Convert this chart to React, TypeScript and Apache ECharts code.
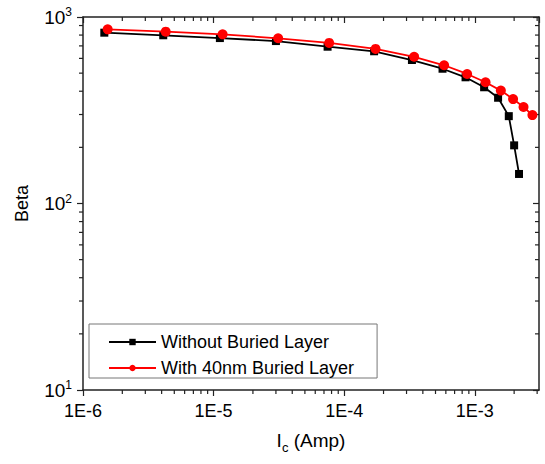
import React, { useEffect, useRef } from "react";
import * as echarts from "echarts";

const seriesNames = ["Without Buried Layer", "With 40nm Buried Layer"];
const icWithout = [1.456e-6, 4.115e-6, 1.117e-5, 3.0e-5, 7.46e-5, 1.694e-4, 3.3e-4, 5.66e-4, 8.49e-4, 1.178e-3, 1.507e-3, 1.82e-3, 2.0e-3, 2.18e-3];
const betaWithout = [824, 798, 771, 743, 693, 655, 588, 528, 475, 420, 369, 294, 205, 144];
const icBuried = [1.545e-6, 4.3e-6, 1.172e-5, 3.12e-5, 7.67e-5, 1.738e-4, 3.43e-4, 5.82e-4, 8.73e-4, 1.208e-3, 1.582e-3, 1.963e-3, 2.36e-3, 2.76e-3];
const betaBuried = [859, 834, 807, 769, 726, 674, 612, 551, 495, 447, 403, 363, 329, 298];

const xMin = 1e-6;
const xMax = 3.1e-3;
const yMin = 10;
const yMax = 1000;
const xMinorTicks = [
  2e-6, 3e-6, 4e-6, 5e-6, 6e-6, 7e-6, 8e-6, 9e-6,
  2e-5, 3e-5, 4e-5, 5e-5, 6e-5, 7e-5, 8e-5, 9e-5,
  2e-4, 3e-4, 4e-4, 5e-4, 6e-4, 7e-4, 8e-4, 9e-4,
  2e-3, 3e-3,
];
const yMinorTicks = [20, 30, 40, 50, 60, 70, 80, 90, 200, 300, 400, 500, 600, 700, 800, 900];

const FONT = "Liberation Sans, Arial, sans-serif";
const AXIS_COLOR = "#222";

export default function App() {
  const ref = useRef<HTMLDivElement>(null);
  useEffect(() => {
    document.body.style.margin = "0";
    if (!ref.current) return;
    const chart = echarts.init(ref.current, null, { renderer: "svg" });
    const tickStyle = { stroke: AXIS_COLOR, lineWidth: 1.2 };
    chart.setOption({
      animation: false,
      backgroundColor: "#fff",
      grid: { left: 83, right: 6, top: 17, bottom: 74, containLabel: false },
      legend: {
        data: seriesNames,
        orient: "vertical",
        left: 89,
        top: 324,
        borderColor: "#777",
        borderWidth: 1,
        padding: [9, 23, 1, 19],
        itemWidth: 47,
        itemHeight: 8,
        itemGap: 8,
        textStyle: { fontSize: 18, fontFamily: FONT, color: "#000" },
      },
      xAxis: [
        {
          type: "log",
          logBase: 10,
          min: xMin,
          max: xMax,
          position: "bottom",
          name: "{n|I}{sub|c}{n| (Amp)}",
          nameLocation: "middle",
          nameGap: 36,
          nameTextStyle: {
            fontFamily: FONT,
            color: "#000",
            rich: {
              n: { fontSize: 19, fontFamily: FONT, color: "#000", lineHeight: 28 },
              sub: { fontSize: 13, fontFamily: FONT, color: "#000", lineHeight: 13, verticalAlign: "bottom" },
            },
          },
          axisLine: { show: true, onZero: false, lineStyle: { color: AXIS_COLOR, width: 1.5 } },
          axisTick: { show: true, inside: false, length: 6, lineStyle: { color: AXIS_COLOR, width: 1.2 } },
          splitLine: { show: false },
          axisLabel: {
            margin: 12,
            fontSize: 18,
            fontFamily: FONT,
            color: "#000",
            showMaxLabel: false,
            formatter: (v: number) => "1E" + Math.round(Math.log10(v)),
          },
        },
        {
          type: "log",
          logBase: 10,
          min: xMin,
          max: xMax,
          position: "top",
          axisLine: { show: true, onZero: false, lineStyle: { color: AXIS_COLOR, width: 1.5 } },
          axisTick: { show: true, inside: true, length: 6, lineStyle: { color: AXIS_COLOR, width: 1.2 } },
          axisLabel: { show: false },
          splitLine: { show: false },
        },
      ],
      yAxis: [
        {
          type: "log",
          logBase: 10,
          min: yMin,
          max: yMax,
          position: "left",
          name: "Beta",
          nameLocation: "middle",
          nameRotate: 90,
          nameGap: 52,
          nameTextStyle: { fontSize: 18, fontFamily: FONT, color: "#000" },
          axisLine: { show: true, onZero: false, lineStyle: { color: AXIS_COLOR, width: 1.5 } },
          axisTick: { show: true, inside: false, length: 6, lineStyle: { color: AXIS_COLOR, width: 1.2 } },
          splitLine: { show: false },
          axisLabel: {
            margin: 11,
            formatter: (v: number) => `{b|10}{s|${Math.round(Math.log10(v))}}`,
            rich: {
              b: { fontSize: 19, fontFamily: FONT, color: "#000", lineHeight: 22 },
              s: { fontSize: 12, fontFamily: FONT, color: "#000", lineHeight: 12, verticalAlign: "top" },
            },
          },
        },
        {
          type: "log",
          logBase: 10,
          min: yMin,
          max: yMax,
          position: "right",
          axisLine: { show: true, onZero: false, lineStyle: { color: AXIS_COLOR, width: 1.5 } },
          axisTick: { show: true, inside: true, length: 6, lineStyle: { color: AXIS_COLOR, width: 1.2 } },
          axisLabel: { show: false },
          splitLine: { show: false },
        },
      ],
      series: [
        {
          name: seriesNames[0],
          type: "line",
          xAxisIndex: 0,
          yAxisIndex: 0,
          data: icWithout.map((x, i) => [x, betaWithout[i]]),
          symbol: "rect",
          symbolSize: 8,
          lineStyle: { color: "#000", width: 1.8 },
          itemStyle: { color: "#000" },
          z: 3,
        },
        {
          name: seriesNames[1],
          type: "line",
          xAxisIndex: 0,
          yAxisIndex: 0,
          data: icBuried.map((x, i) => [x, betaBuried[i]]),
          symbol: "circle",
          symbolSize: 10,
          lineStyle: { color: "#ff0000", width: 1.8 },
          itemStyle: { color: "#ff0000" },
          z: 4,
        },
        {
          type: "custom",
          name: "xMinor",
          xAxisIndex: 0,
          yAxisIndex: 0,
          silent: true,
          data: xMinorTicks.map((v) => [v, yMin]),
          renderItem: (_p: any, api: any) => {
            const b = api.coord([api.value(0), yMin]);
            const t = api.coord([api.value(0), yMax]);
            return {
              type: "group",
              children: [
                { type: "line", shape: { x1: b[0], y1: b[1], x2: b[0], y2: b[1] + 4 }, style: tickStyle },
                { type: "line", shape: { x1: t[0], y1: t[1], x2: t[0], y2: t[1] + 4 }, style: tickStyle },
              ],
            };
          },
        },
        {
          type: "custom",
          name: "yMinor",
          xAxisIndex: 0,
          yAxisIndex: 0,
          silent: true,
          data: yMinorTicks.map((v) => [xMin, v]),
          renderItem: (_p: any, api: any) => {
            const l = api.coord([xMin, api.value(1)]);
            const r = api.coord([xMax, api.value(1)]);
            return {
              type: "group",
              children: [
                { type: "line", shape: { x1: l[0] - 4, y1: l[1], x2: l[0], y2: l[1] }, style: tickStyle },
                { type: "line", shape: { x1: r[0] - 4, y1: r[1], x2: r[0], y2: r[1] }, style: tickStyle },
              ],
            };
          },
        },
      ],
    });
    return () => chart.dispose();
  }, []);
  return <div ref={ref} style={{ width: 545, height: 464 }} />;
}
